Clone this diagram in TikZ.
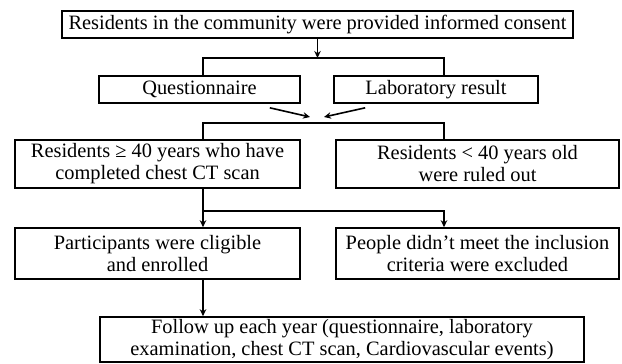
\documentclass[tikz,border=0pt]{standalone}
\usepackage{fontspec}
\setmainfont{Liberation Serif}
\usetikzlibrary{arrows.meta}
\tikzset{
  box/.style={draw,line width=1.6pt,inner sep=0pt,align=center,
    font=\fontsize{20.4}{22}\selectfont},
}
\begin{document}
\begin{tikzpicture}[x=1pt,y=-1pt,line width=1.6pt,>={Stealth[length=7pt,width=6.5pt]}]
  \useasboundingbox (0,0) rectangle (622,364);
  \draw
    (317.5,24.5) node[box,minimum width=511pt,minimum height=27pt] (consent){Residents in the community were provided informed consent}
    (199.5,89.5) node[box,minimum width=201pt,minimum height=27pt] (quest){Questionnaire}
    (436,89.5) node[box,minimum width=204pt,minimum height=27pt] (lab){Laboratory result}
    (157.5,164) node[box,minimum width=285pt,minimum height=48pt] (old){Residents ≥ 40 years who have\\completed chest CT scan}
    (477.5,164) node[box,minimum width=283pt,minimum height=48pt] (young){Residents < 40 years old\\were ruled out}
    (157.5,253.5) node[box,minimum width=285pt,minimum height=51pt] (enrol){Participants were cligible\\and enrolled}
    (477.5,253.5) node[box,minimum width=283pt,minimum height=51pt] (excl){People didn’t meet the inclusion\\criteria were excluded}
    (342,339.5) node[box,minimum width=484pt,minimum height=45pt] (follow){Follow up each year (questionnaire, laboratory\\examination, chest CT scan, Cardiovascular events)};
  \coordinate (j1) at (317.5,58);
  \coordinate (j1l) at (203,58);
  \coordinate (j1r) at (444,58);
  \coordinate (m1) at (310,117);
  \coordinate (m2) at (324,117);
  \coordinate (j2l) at (203,123);
  \coordinate (j2r) at (444,123);
  \coordinate (j3l) at (203,211);
  \coordinate (j3r) at (444,211);
  \begin{scope}[->]
    \draw (consent) -- (j1);
    \draw ([shift={(-31,4)}]quest.south east) -- (m1);
    \draw ([shift={(32,4)}]lab.south west) -- (m2);
    \draw (j3l |- old.south) -- (j3l) -- (j3l |- enrol.north);
    \draw (j3l) -- (j3r) -- (j3r |- excl.north);
    \draw (j3l |- enrol.south) -- (j3l |- follow.north);
  \end{scope}
  \begin{scope}[-]
    \draw (j1l |- quest.north) -- (j1l) -- (j1r) -- (j1r |- lab.north);
    \draw (j2l |- old.north) -- (j2l) -- (j2r) -- (j2r |- young.north);
  \end{scope}
\end{tikzpicture}
\end{document}
